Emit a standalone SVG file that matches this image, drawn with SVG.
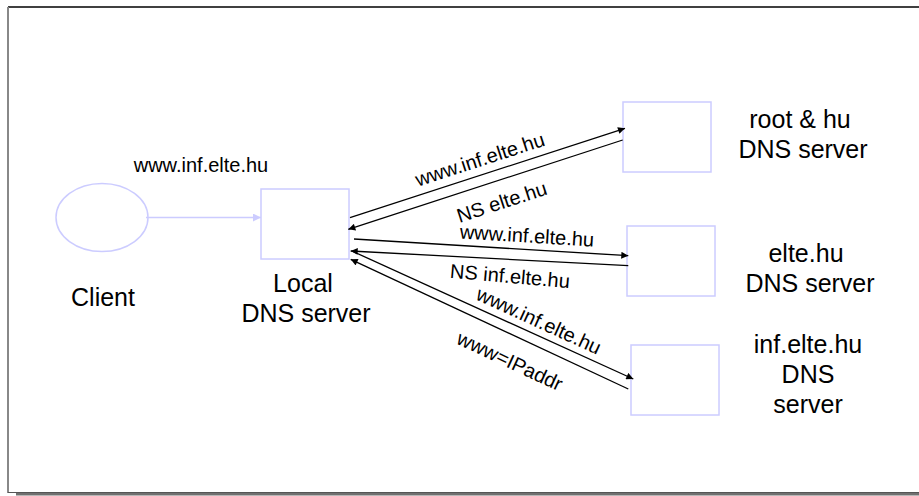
<svg xmlns="http://www.w3.org/2000/svg" width="919" height="496" viewBox="0 0 919 496">
<style>
.node{fill:#ffffff;stroke:#ccccff;stroke-width:1.5}
.lbl{font-family:"Liberation Sans",Arial,sans-serif;font-size:25px;fill:#000;text-anchor:middle}
.msg{font-family:"Liberation Sans",Arial,sans-serif;font-size:20px;fill:#000;text-anchor:middle}
.ar{stroke:#000;stroke-width:1.3;fill:none;marker-end:url(#ah)}
</style>
<defs>
<marker id="ah" viewBox="0 0 10 10" refX="10" refY="5" markerWidth="8" markerHeight="7" markerUnits="userSpaceOnUse" orient="auto">
<path d="M0,0 L10,5 L0,10 z" fill="#000"/>
</marker>
<marker id="ahl" viewBox="0 0 10 10" refX="10" refY="5" markerWidth="9" markerHeight="8" markerUnits="userSpaceOnUse" orient="auto">
<path d="M0,0 L10,5 L0,10 z" fill="#ccccff"/>
</marker>
</defs>
<rect x="0" y="0" width="919" height="496" fill="#ffffff"/>
<g id="frame">
<line x1="16" y1="494" x2="919" y2="494" stroke="#707070" stroke-width="3"/>
<line x1="8" y1="7" x2="919" y2="7" stroke="#000" stroke-width="1.5"/>
<line x1="8" y1="7" x2="8" y2="493" stroke="#888" stroke-width="2"/>
<line x1="8" y1="492.5" x2="919" y2="492.5" stroke="#555" stroke-width="1"/>
</g>
<g id="client">
<ellipse cx="102" cy="217.5" rx="46" ry="34" class="node"/>
<text class="lbl" x="103" y="306">Client</text>
</g>
<g id="local">
<rect x="261" y="189" width="88" height="70" class="node"/>
<text class="lbl" x="303" y="292">Local</text>
<text class="lbl" x="306" y="322">DNS server</text>
</g>
<g id="root">
<rect x="623" y="102" width="88" height="70" class="node"/>
<text class="lbl" x="800" y="128">root &amp; hu</text>
<text class="lbl" x="803" y="158">DNS server</text>
</g>
<g id="elte">
<rect x="627" y="226" width="88" height="70" class="node"/>
<text class="lbl" x="806" y="262">elte.hu</text>
<text class="lbl" x="810" y="292">DNS server</text>
</g>
<g id="inf">
<rect x="631" y="345" width="88" height="70" class="node"/>
<text class="lbl" x="808" y="353">inf.elte.hu</text>
<text class="lbl" x="808" y="383">DNS</text>
<text class="lbl" x="808" y="413">server</text>
</g>
<g id="connectors">
<line x1="146" y1="217.5" x2="261" y2="217.5" stroke="#ccccff" stroke-width="1.3" marker-end="url(#ahl)"/>
<line class="ar" x1="350" y1="217.7" x2="625" y2="128.3"/>
<line class="ar" x1="622.7" y1="140" x2="348.3" y2="229.3"/>
<line class="ar" x1="354" y1="239" x2="628.3" y2="255.7"/>
<line class="ar" x1="628.3" y1="265.7" x2="350.7" y2="251"/>
<line class="ar" x1="353" y1="251.5" x2="633.3" y2="379"/>
<line class="ar" x1="628.3" y1="389" x2="350.7" y2="259.3"/>
<text class="msg" x="201" y="172">www.inf.elte.hu</text>
<text class="msg" transform="translate(482,166) rotate(-18)">www.inf.elte.hu</text>
<text class="msg" transform="translate(504,208.5) rotate(-18)">NS elte.hu</text>
<text class="msg" transform="translate(526.5,242.5) rotate(3.5)">www.inf.elte.hu</text>
<text class="msg" transform="translate(509.4,283) rotate(5)">NS inf.elte.hu</text>
<text class="msg" transform="translate(536,327) rotate(24.5)">www.inf.elte.hu</text>
<text class="msg" transform="translate(507,367.3) rotate(25)">www=IPaddr</text>
</g>
</svg>
